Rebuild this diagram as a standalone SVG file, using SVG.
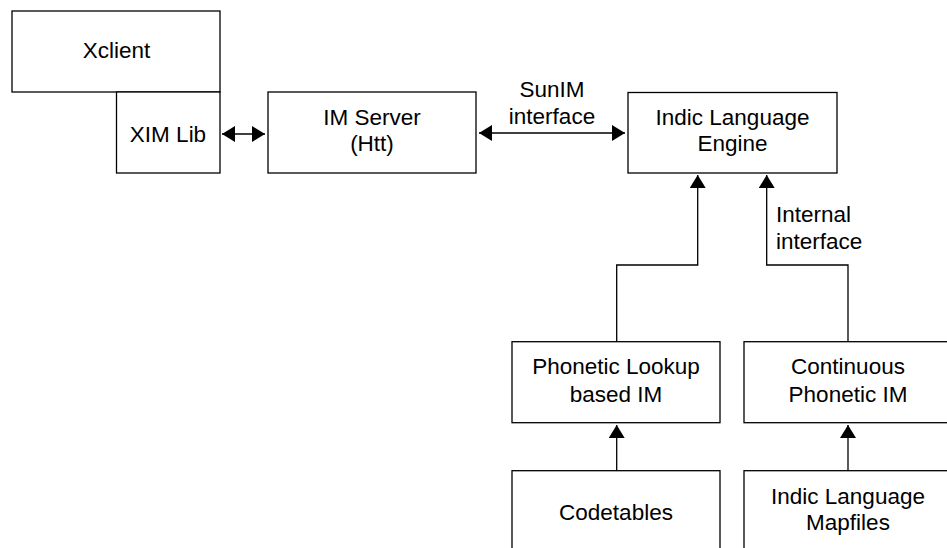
<svg xmlns="http://www.w3.org/2000/svg" width="947" height="548" viewBox="0 0 947 548">
<style>
.box{fill:#fff;stroke:#000;stroke-width:1.3}
.t{font-family:"Liberation Sans",Arial,Helvetica,sans-serif;font-size:22.5px;fill:#000;text-anchor:middle}
.l{text-anchor:start}
.c{fill:none;stroke:#000;stroke-width:1.3}
</style>
<defs>
<marker id="ah" markerUnits="userSpaceOnUse" markerWidth="13" markerHeight="16" refX="13" refY="8" orient="auto-start-reverse" viewBox="0 0 13 16">
<path d="M0,0 L13,8 L0,16 z" fill="#000"/>
</marker>
</defs>
<rect width="947" height="548" fill="#fff"/>
<g id="xclient">
<rect class="box" x="12" y="11" width="208" height="81"/>
<text class="t" x="116.5" y="58">Xclient</text>
</g>
<g id="ximlib">
<rect class="box" x="116.5" y="92" width="103.5" height="81"/>
<text class="t" x="168" y="142">XIM Lib</text>
</g>
<g id="imserver">
<rect class="box" x="268" y="92" width="208" height="81"/>
<text class="t" x="372" y="125">IM Server</text>
<text class="t" x="372" y="151">(Htt)</text>
</g>
<g id="engine">
<rect class="box" x="628" y="92.5" width="209" height="80.5"/>
<text class="t" x="732.5" y="125">Indic Language</text>
<text class="t" x="732.5" y="151">Engine</text>
</g>
<g id="phonetic">
<rect class="box" x="512" y="341.7" width="208" height="81"/>
<text class="t" x="616" y="374">Phonetic Lookup</text>
<text class="t" x="616" y="401.5">based IM</text>
</g>
<g id="continuous">
<rect class="box" x="744" y="341.7" width="208" height="81"/>
<text class="t" x="848" y="374">Continuous</text>
<text class="t" x="848" y="401.5">Phonetic IM</text>
</g>
<g id="codetables">
<rect class="box" x="512" y="470.7" width="208" height="90"/>
<text class="t" x="616" y="519.5">Codetables</text>
</g>
<g id="mapfiles">
<rect class="box" x="744" y="470.7" width="208" height="90"/>
<text class="t" x="848" y="504">Indic Language</text>
<text class="t" x="848" y="530">Mapfiles</text>
</g>
<g id="connectors">
<line class="c" x1="222" y1="134" x2="265" y2="134" marker-start="url(#ah)" marker-end="url(#ah)"/>
<line class="c" x1="479" y1="133" x2="625" y2="133" marker-start="url(#ah)" marker-end="url(#ah)"/>
<text class="t" x="552" y="97">SunIM</text>
<text class="t" x="552" y="123.5">interface</text>
<path class="c" d="M616.7,341.7 V265 H697.7 V175" marker-end="url(#ah)"/>
<path class="c" d="M848,341.7 V265 H766.7 V175" marker-end="url(#ah)"/>
<text class="t l" x="776" y="222">Internal</text>
<text class="t l" x="776" y="248.5">interface</text>
<path class="c" d="M616.7,470.7 V425" marker-end="url(#ah)"/>
<path class="c" d="M848,470.7 V425" marker-end="url(#ah)"/>
</g>
</svg>
